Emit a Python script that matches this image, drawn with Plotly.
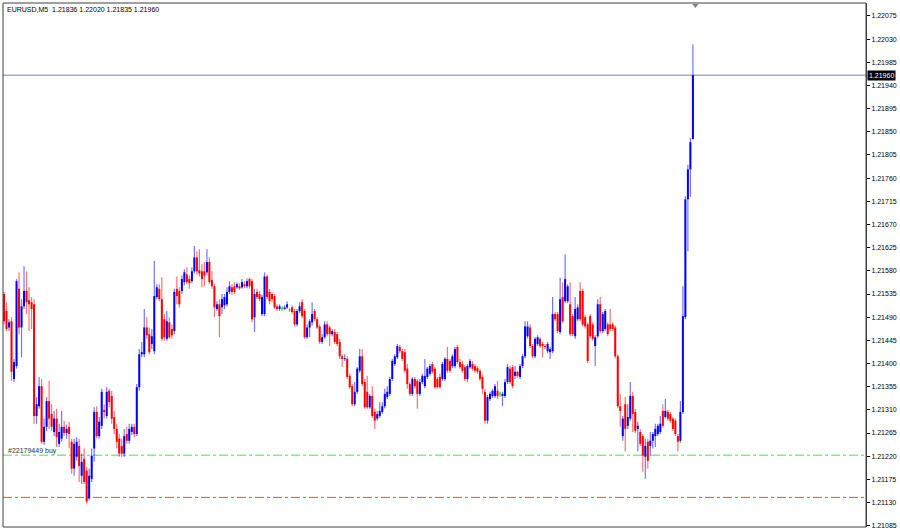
import plotly.graph_objects as go

header_text = "EURUSD,M5  1.21836 1.22020 1.21835 1.21960"
bid_price = 1.21960
bid_text = "1.21960"
order_price = 1.21222
order_text = "#22179449 buy"
stop_price = 1.21140

tick_labels = ["1.21085", "1.21130", "1.21175", "1.21220", "1.21265", "1.21310", "1.21355",
               "1.21400", "1.21445", "1.21490", "1.21535", "1.21580", "1.21625", "1.21670",
               "1.21715", "1.21760", "1.21805", "1.21850", "1.21895", "1.21940", "1.21985",
               "1.22030", "1.22075"]
tick_values = [float(t) for t in tick_labels]

open_prices = [
    1.21535, 1.21502, 1.21470, 1.21482, 1.21370, 1.21395, 1.21545, 1.21470, 1.21511, 1.21541,
    1.21523, 1.21519, 1.21515, 1.21298, 1.21317, 1.21356, 1.21248, 1.21277, 1.21327, 1.21302,
    1.21267, 1.21293, 1.21244, 1.21254, 1.21277, 1.21265, 1.21277, 1.21248, 1.21196, 1.21219,
    1.21240, 1.21182, 1.21215, 1.21192, 1.21138, 1.21176, 1.21235, 1.21306, 1.21259, 1.21279,
    1.21310, 1.21298, 1.21347, 1.21337, 1.21296, 1.21273, 1.21254, 1.21240, 1.21225, 1.21263,
    1.21250, 1.21267, 1.21277, 1.21263, 1.21354, 1.21418, 1.21418, 1.21470,
    1.21457, 1.21438, 1.21424, 1.21529, 1.21545, 1.21525, 1.21486, 1.21448, 1.21480, 1.21467,
    1.21463, 1.21545, 1.21541, 1.21541, 1.21558, 1.21573, 1.21564, 1.21560, 1.21579, 1.21606,
    1.21581, 1.21579, 1.21579, 1.21577, 1.21597, 1.21562, 1.21550, 1.21506, 1.21515, 1.21509,
    1.21513, 1.21515, 1.21539, 1.21548, 1.21550, 1.21548, 1.21550, 1.21548, 1.21554, 1.21550,
    1.21564, 1.21560, 1.21490, 1.21539, 1.21535, 1.21496, 1.21496, 1.21569, 1.21539, 1.21535,
    1.21531, 1.21511, 1.21506, 1.21507, 1.21506, 1.21509, 1.21504,
    1.21509, 1.21502, 1.21476, 1.21502, 1.21519, 1.21502, 1.21451, 1.21470, 1.21480, 1.21502,
    1.21486, 1.21472, 1.21442, 1.21451, 1.21476, 1.21470, 1.21457, 1.21461, 1.21457, 1.21442,
    1.21414, 1.21409, 1.21409, 1.21376, 1.21356, 1.21321, 1.21345, 1.21386, 1.21414, 1.21364,
    1.21345, 1.21315, 1.21337, 1.21306, 1.21293, 1.21298, 1.21306, 1.21317, 1.21335, 1.21341,
    1.21370, 1.21399, 1.21412, 1.21432, 1.21424, 1.21422, 1.21390, 1.21360, 1.21341, 1.21370,
    1.21366, 1.21341, 1.21364, 1.21356, 1.21374, 1.21380, 1.21399, 1.21390, 1.21370, 1.21374,
    1.21370, 1.21370, 1.21409, 1.21405, 1.21395, 1.21395, 1.21432, 1.21403, 1.21399, 1.21393,
    1.21370, 1.21393, 1.21399, 1.21395, 1.21391, 1.21386, 1.21374, 1.21345,
    1.21289, 1.21331, 1.21337, 1.21337, 1.21347, 1.21341, 1.21337, 1.21337, 1.21364, 1.21390,
    1.21393, 1.21376, 1.21384, 1.21374, 1.21395, 1.21414, 1.21453, 1.21470, 1.21434, 1.21414,
    1.21438, 1.21448, 1.21438, 1.21434, 1.21424, 1.21422, 1.21424, 1.21496, 1.21496, 1.21461,
    1.21529, 1.21521, 1.21521, 1.21515, 1.21492, 1.21453, 1.21486, 1.21541, 1.21541, 1.21490,
    1.21476, 1.21492, 1.21476, 1.21434, 1.21453, 1.21515, 1.21463, 1.21467, 1.21476, 1.21476,
    1.21476, 1.21470, 1.21414,
    1.21317, 1.21259, 1.21321, 1.21279, 1.21293, 1.21337, 1.21306, 1.21273, 1.21267, 1.21259,
    1.21219, 1.21248, 1.21240, 1.21250, 1.21259, 1.21263, 1.21267, 1.21308, 1.21296, 1.21306,
    1.21302, 1.21293, 1.21289, 1.21259, 1.21250, 1.21306, 1.21490, 1.21719, 1.21777, 1.21836,
]

high_prices = [
    1.21539, 1.21519, 1.21486, 1.21490, 1.21409, 1.21564, 1.21577, 1.21525, 1.21589, 1.21579,
    1.21548, 1.21529, 1.21525, 1.21335, 1.21374, 1.21370, 1.21293, 1.21335, 1.21366, 1.21321,
    1.21308, 1.21312, 1.21283, 1.21308, 1.21289, 1.21281, 1.21287, 1.21254, 1.21254, 1.21257,
    1.21254, 1.21225, 1.21235, 1.21199, 1.21196, 1.21235, 1.21315, 1.21317, 1.21296, 1.21351,
    1.21321, 1.21354, 1.21351, 1.21347, 1.21308, 1.21283, 1.21263, 1.21254, 1.21273, 1.21277,
    1.21283, 1.21283, 1.21283, 1.21360, 1.21428, 1.21442, 1.21506, 1.21490,
    1.21470, 1.21467, 1.21599, 1.21554, 1.21554, 1.21567, 1.21496, 1.21502, 1.21490, 1.21476,
    1.21545, 1.21569, 1.21548, 1.21571, 1.21583, 1.21587, 1.21571, 1.21587, 1.21628, 1.21618,
    1.21622, 1.21593, 1.21597, 1.21622, 1.21606, 1.21579, 1.21554, 1.21521, 1.21525, 1.21535,
    1.21535, 1.21548, 1.21560, 1.21554, 1.21558, 1.21558, 1.21556, 1.21564, 1.21560, 1.21565,
    1.21567, 1.21564, 1.21545, 1.21545, 1.21541, 1.21533, 1.21577, 1.21573, 1.21545, 1.21539,
    1.21535, 1.21515, 1.21515, 1.21511, 1.21513, 1.21521, 1.21507,
    1.21513, 1.21506, 1.21506, 1.21519, 1.21525, 1.21506, 1.21476, 1.21486, 1.21519, 1.21506,
    1.21490, 1.21476, 1.21457, 1.21482, 1.21482, 1.21474, 1.21467, 1.21467, 1.21461, 1.21448,
    1.21418, 1.21418, 1.21414, 1.21380, 1.21360, 1.21364, 1.21393, 1.21428, 1.21428, 1.21370,
    1.21376, 1.21341, 1.21356, 1.21312, 1.21308, 1.21325, 1.21325, 1.21351, 1.21356, 1.21374,
    1.21409, 1.21418, 1.21438, 1.21436, 1.21428, 1.21428, 1.21399, 1.21364, 1.21374, 1.21374,
    1.21370, 1.21370, 1.21380, 1.21409, 1.21393, 1.21399, 1.21403, 1.21393, 1.21374, 1.21380,
    1.21403, 1.21412, 1.21432, 1.21409, 1.21418, 1.21432, 1.21436, 1.21409, 1.21405, 1.21397,
    1.21399, 1.21409, 1.21405, 1.21399, 1.21395, 1.21390, 1.21378, 1.21351,
    1.21339, 1.21345, 1.21351, 1.21360, 1.21366, 1.21345, 1.21345, 1.21370, 1.21399, 1.21395,
    1.21397, 1.21395, 1.21386, 1.21399, 1.21418, 1.21482, 1.21482, 1.21476, 1.21438, 1.21451,
    1.21455, 1.21451, 1.21442, 1.21438, 1.21442, 1.21432, 1.21529, 1.21500, 1.21500, 1.21567,
    1.21558, 1.21612, 1.21554, 1.21558, 1.21496, 1.21529, 1.21515, 1.21558, 1.21545, 1.21494,
    1.21480, 1.21496, 1.21480, 1.21455, 1.21525, 1.21529, 1.21500, 1.21506, 1.21480, 1.21506,
    1.21480, 1.21474, 1.21418,
    1.21341, 1.21298, 1.21335, 1.21321, 1.21364, 1.21345, 1.21312, 1.21287, 1.21273, 1.21263,
    1.21254, 1.21254, 1.21267, 1.21267, 1.21283, 1.21283, 1.21298, 1.21321, 1.21331, 1.21310,
    1.21306, 1.21296, 1.21293, 1.21263, 1.21327, 1.21550, 1.21725, 1.21786, 1.21838, 1.22020,
]

low_prices = [
    1.21476, 1.21463, 1.21463, 1.21366, 1.21364, 1.21390, 1.21457, 1.21412, 1.21506, 1.21496,
    1.21463, 1.21467, 1.21283, 1.21283, 1.21312, 1.21244, 1.21242, 1.21269, 1.21273, 1.21269,
    1.21259, 1.21238, 1.21238, 1.21248, 1.21259, 1.21254, 1.21235, 1.21186, 1.21182, 1.21211,
    1.21170, 1.21166, 1.21166, 1.21128, 1.21134, 1.21170, 1.21209, 1.21254, 1.21254, 1.21273,
    1.21293, 1.21293, 1.21315, 1.21283, 1.21263, 1.21235, 1.21219, 1.21219, 1.21219, 1.21244,
    1.21244, 1.21261, 1.21257, 1.21259, 1.21347, 1.21412, 1.21412, 1.21448,
    1.21418, 1.21428, 1.21418, 1.21525, 1.21521, 1.21444, 1.21444, 1.21444, 1.21448, 1.21448,
    1.21457, 1.21515, 1.21509, 1.21535, 1.21552, 1.21554, 1.21545, 1.21556, 1.21575, 1.21573,
    1.21569, 1.21548, 1.21550, 1.21571, 1.21554, 1.21545, 1.21490, 1.21502, 1.21451, 1.21496,
    1.21506, 1.21511, 1.21535, 1.21533, 1.21535, 1.21545, 1.21543, 1.21545, 1.21546, 1.21546,
    1.21545, 1.21480, 1.21461, 1.21525, 1.21521, 1.21492, 1.21492, 1.21525, 1.21515, 1.21519,
    1.21506, 1.21502, 1.21502, 1.21502, 1.21504, 1.21506, 1.21500,
    1.21496, 1.21472, 1.21472, 1.21498, 1.21488, 1.21448, 1.21448, 1.21451, 1.21474, 1.21482,
    1.21467, 1.21438, 1.21438, 1.21448, 1.21453, 1.21434, 1.21453, 1.21438, 1.21434, 1.21409,
    1.21393, 1.21405, 1.21370, 1.21351, 1.21317, 1.21317, 1.21341, 1.21382, 1.21356, 1.21312,
    1.21312, 1.21312, 1.21294, 1.21273, 1.21289, 1.21294, 1.21302, 1.21313, 1.21331, 1.21337,
    1.21366, 1.21395, 1.21409, 1.21420, 1.21405, 1.21382, 1.21351, 1.21337, 1.21337, 1.21352,
    1.21312, 1.21337, 1.21360, 1.21352, 1.21370, 1.21376, 1.21380, 1.21351, 1.21351, 1.21351,
    1.21366, 1.21366, 1.21382, 1.21382, 1.21391, 1.21391, 1.21399, 1.21390, 1.21382, 1.21366,
    1.21364, 1.21390, 1.21386, 1.21382, 1.21380, 1.21366, 1.21341, 1.21283,
    1.21283, 1.21327, 1.21333, 1.21333, 1.21331, 1.21335, 1.21317, 1.21333, 1.21360, 1.21360,
    1.21352, 1.21370, 1.21372, 1.21370, 1.21391, 1.21410, 1.21449, 1.21430, 1.21410, 1.21410,
    1.21434, 1.21430, 1.21412, 1.21428, 1.21420, 1.21409, 1.21420, 1.21482, 1.21459, 1.21457,
    1.21478, 1.21517, 1.21517, 1.21453, 1.21453, 1.21448, 1.21482, 1.21482, 1.21472, 1.21468,
    1.21401, 1.21449, 1.21444, 1.21395, 1.21449, 1.21459, 1.21459, 1.21463, 1.21453, 1.21463,
    1.21463, 1.21410, 1.21313,
    1.21277, 1.21250, 1.21229, 1.21273, 1.21289, 1.21267, 1.21265, 1.21229, 1.21240, 1.21190,
    1.21176, 1.21196, 1.21221, 1.21235, 1.21238, 1.21259, 1.21263, 1.21275, 1.21293, 1.21289,
    1.21285, 1.21269, 1.21259, 1.21229, 1.21246, 1.21302, 1.21486, 1.21618, 1.21724, 1.21835,
]

close_prices = [
    1.21482, 1.21467, 1.21480, 1.21384, 1.21403, 1.21560, 1.21470, 1.21511, 1.21541, 1.21519,
    1.21515, 1.21506, 1.21298, 1.21321, 1.21356, 1.21248, 1.21277, 1.21327, 1.21293, 1.21277,
    1.21293, 1.21257, 1.21267, 1.21277, 1.21265, 1.21273, 1.21263, 1.21196, 1.21244, 1.21248,
    1.21201, 1.21209, 1.21170, 1.21132, 1.21182, 1.21221, 1.21306, 1.21259, 1.21287, 1.21345,
    1.21306, 1.21345, 1.21325, 1.21293, 1.21273, 1.21248, 1.21225, 1.21225, 1.21259, 1.21250,
    1.21273, 1.21277, 1.21263, 1.21354, 1.21418, 1.21422, 1.21470, 1.21455,
    1.21422, 1.21453, 1.21531, 1.21548, 1.21525, 1.21448, 1.21451, 1.21482, 1.21451, 1.21455,
    1.21539, 1.21531, 1.21515, 1.21564, 1.21577, 1.21558, 1.21556, 1.21579, 1.21606, 1.21579,
    1.21575, 1.21564, 1.21571, 1.21597, 1.21558, 1.21550, 1.21509, 1.21515, 1.21492, 1.21525,
    1.21529, 1.21539, 1.21550, 1.21539, 1.21539, 1.21554, 1.21546, 1.21558, 1.21550, 1.21560,
    1.21550, 1.21486, 1.21535, 1.21529, 1.21525, 1.21529, 1.21569, 1.21529, 1.21521, 1.21525,
    1.21509, 1.21506, 1.21511, 1.21507, 1.21509, 1.21515, 1.21504,
    1.21500, 1.21476, 1.21502, 1.21511, 1.21492, 1.21451, 1.21470, 1.21482, 1.21496, 1.21486,
    1.21470, 1.21442, 1.21451, 1.21476, 1.21457, 1.21457, 1.21463, 1.21442, 1.21438, 1.21414,
    1.21409, 1.21410, 1.21374, 1.21354, 1.21321, 1.21345, 1.21390, 1.21414, 1.21360, 1.21315,
    1.21315, 1.21337, 1.21298, 1.21289, 1.21302, 1.21308, 1.21317, 1.21341, 1.21345, 1.21370,
    1.21405, 1.21414, 1.21434, 1.21424, 1.21409, 1.21386, 1.21360, 1.21341, 1.21370, 1.21356,
    1.21341, 1.21364, 1.21376, 1.21376, 1.21390, 1.21395, 1.21384, 1.21354, 1.21354, 1.21354,
    1.21399, 1.21409, 1.21386, 1.21386, 1.21414, 1.21428, 1.21403, 1.21393, 1.21386, 1.21370,
    1.21395, 1.21405, 1.21390, 1.21386, 1.21384, 1.21370, 1.21351, 1.21289,
    1.21335, 1.21341, 1.21347, 1.21356, 1.21337, 1.21341, 1.21341, 1.21364, 1.21393, 1.21364,
    1.21356, 1.21384, 1.21376, 1.21395, 1.21414, 1.21472, 1.21472, 1.21434, 1.21414, 1.21448,
    1.21451, 1.21434, 1.21434, 1.21432, 1.21438, 1.21428, 1.21496, 1.21486, 1.21463, 1.21525,
    1.21482, 1.21564, 1.21550, 1.21457, 1.21457, 1.21506, 1.21509, 1.21486, 1.21476, 1.21472,
    1.21405, 1.21453, 1.21448, 1.21451, 1.21515, 1.21463, 1.21496, 1.21502, 1.21457, 1.21467,
    1.21467, 1.21414, 1.21317,
    1.21308, 1.21293, 1.21273, 1.21296, 1.21337, 1.21302, 1.21269, 1.21279, 1.21244, 1.21221,
    1.21240, 1.21211, 1.21250, 1.21263, 1.21273, 1.21279, 1.21283, 1.21279, 1.21308, 1.21293,
    1.21289, 1.21273, 1.21263, 1.21248, 1.21306, 1.21492, 1.21719, 1.21777, 1.21830, 1.21960,
]

# ---------- layout geometry (pixels of the 900x532 page) ----------
W, H = 900, 532
PLOT_L, PLOT_R, PLOT_T, PLOT_B = 3, 868, 3, 529
FIRST_BAR_PX, LAST_BAR_PX = 4.0, 694.5
LABEL_TOP_PX, LABEL_BOT_PX = 16.0, 527.7   # pixel rows of 1.22075 and 1.21085

n = len(open_prices)
idx = list(range(n))
step = (LAST_BAR_PX - FIRST_BAR_PX) / (n - 1)
x_range = [-(FIRST_BAR_PX - PLOT_L) / step, (n - 1) + (PLOT_R - LAST_BAR_PX) / step]

px_per_price = (LABEL_BOT_PX - LABEL_TOP_PX) / (tick_values[-1] - tick_values[0])
y_hi = tick_values[-1] + (LABEL_TOP_PX - PLOT_T) / px_per_price
y_lo = tick_values[0] - (PLOT_B - LABEL_BOT_PX) / px_per_price
min_body = 1.0 / px_per_price


def kind(o, c):
    if c > o:
        return "up"
    if c < o:
        return "down"
    return "doji"


styles = {
    "up": ("#0000FF", "rgba(0,0,255,0.55)"),
    "down": ("#FF0000", "rgba(255,0,0,0.55)"),
    "doji": ("#00E000", "rgba(0,220,0,0.8)"),
}

fig = go.Figure()
for k, (body_col, wick_col) in styles.items():
    ids = [i for i in idx if kind(open_prices[i], close_prices[i]) == k]
    if not ids:
        continue
    wx, wy = [], []
    for i in ids:
        wx += [i, i, None]
        wy += [low_prices[i], high_prices[i], None]
    fig.add_trace(go.Scatter(x=wx, y=wy, mode="lines",
                             line=dict(color=wick_col, width=1.2),
                             hoverinfo="skip", showlegend=False))
    bases, heights = [], []
    for i in ids:
        lo = min(open_prices[i], close_prices[i])
        hi = max(open_prices[i], close_prices[i])
        h = max(hi - lo, min_body)
        bases.append((lo + hi) / 2 - h / 2)
        heights.append(h)
    fig.add_trace(go.Bar(x=ids, y=heights, base=bases, width=0.8,
                         marker=dict(color=body_col, line=dict(width=0)),
                         hoverinfo="skip", showlegend=False))

shapes = [
    dict(type="line", xref="paper", yref="y", x0=0, x1=1, y0=bid_price, y1=bid_price,
         line=dict(color="#778899", width=1), layer="below"),
    dict(type="line", xref="paper", yref="y", x0=0, x1=1, y0=order_price, y1=order_price,
         line=dict(color="#55D855", width=1, dash="dashdot"), layer="below"),
    dict(type="line", xref="paper", yref="y", x0=0, x1=1, y0=stop_price, y1=stop_price,
         line=dict(color="#E84C4C", width=1, dash="dashdot"), layer="below"),
    # chart frame
    dict(type="rect", xref="paper", yref="paper", x0=0, x1=1, y0=0, y1=1,
         line=dict(color="#404040", width=1)),
    # chart-shift marker at the top
    dict(type="path", xref="x", yref="paper", xsizemode="pixel", ysizemode="pixel",
         xanchor=(697 - FIRST_BAR_PX) / step, yanchor=1,
         path="M -3,-1 L 3,-1 L 0,-5 Z", fillcolor="#808080", line=dict(width=0)),
]

annotations = [
    dict(text=header_text, xref="paper", yref="paper", x=0, y=1, xanchor="left", yanchor="top",
         xshift=2, yshift=-1, showarrow=False,
         font=dict(family="Liberation Sans", size=7, color="#000000")),
    dict(text=order_text, xref="paper", yref="y", x=0, y=order_price, xanchor="left",
         yanchor="bottom", xshift=3, yshift=-2, showarrow=False,
         font=dict(family="Liberation Sans", size=7, color="#303030")),
    dict(text=bid_text, xref="paper", yref="y", x=1, y=bid_price, xanchor="left",
         yanchor="middle", xshift=1, showarrow=False, bgcolor="#000000", borderpad=1,
         font=dict(family="Liberation Sans", size=7, color="#FFFFFF")),
]

fig.update_layout(
    width=W, height=H,
    margin=dict(l=PLOT_L, r=W - PLOT_R, t=PLOT_T, b=H - PLOT_B, pad=0),
    paper_bgcolor="white", plot_bgcolor="white",
    barmode="overlay", showlegend=False, hovermode=False,
    xaxis=dict(range=x_range, visible=False, fixedrange=True),
    yaxis=dict(range=[y_lo, y_hi], side="right", tickvals=tick_values, ticktext=tick_labels,
               ticks="outside", ticklen=3, tickcolor="#000000", tickwidth=1,
               tickfont=dict(family="Liberation Sans", size=7, color="#000000"),
               showgrid=False, zeroline=False, showline=True, linecolor="#404040",
               linewidth=1, fixedrange=True),
    shapes=shapes, annotations=annotations,
)

fig.write_html(
    "out.html",
    config={"displayModeBar": False, "staticPlot": True},
    post_script="document.body.style.margin='0';document.body.style.overflow='hidden';",
)
